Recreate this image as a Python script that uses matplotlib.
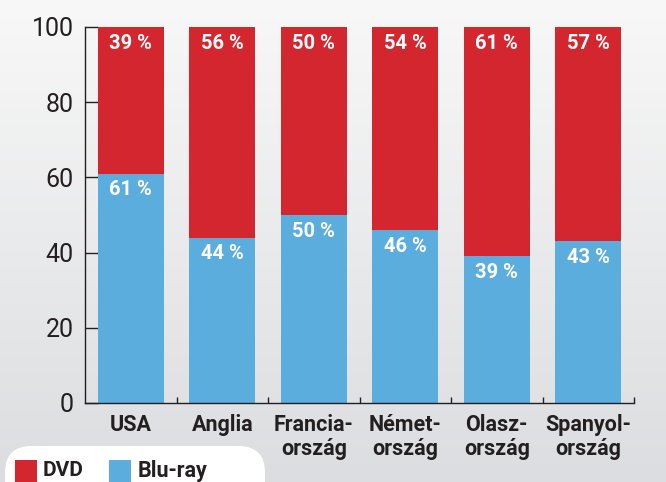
import numpy as np
import matplotlib
matplotlib.use('Agg')
from matplotlib import pyplot as plt
from matplotlib.patches import FancyBboxPatch, Rectangle

# share of sales per country (percent)
countries = ['USA', 'Anglia', 'Francia-\nország', 'Német-\nország', 'Olasz-\nország', 'Spanyol-\nország']
bluray = [61, 44, 50, 46, 39, 43]
dvd = [39, 56, 50, 54, 61, 57]

red = '#d4262f'
blue = '#5badde'
dark = '#231f20'

plt.rcParams['font.family'] = ['Roboto', 'DejaVu Sans']

fig = plt.figure(figsize=(6.66, 4.82), dpi=100)

# soft grey gradient behind everything
bg = fig.add_axes([0, 0, 1, 1], zorder=-10)
grad = np.linspace(0, 1, 256).reshape(-1, 1)
bg.imshow(grad, aspect='auto', extent=[0, 1, 0, 1],
          cmap=matplotlib.colors.LinearSegmentedColormap.from_list('g', ['#dcdde0', '#f8f8f8']),
          origin='lower')
bg.axis('off')

ax = fig.add_axes([85 / 666, 1 - 403 / 482, 549 / 666, 376 / 482])
ax.patch.set_alpha(0)

x = np.arange(len(countries))
w = 0.72
ax.bar(x, bluray, w, color=blue, zorder=2)
ax.bar(x, dvd, w, bottom=bluray, color=red, zorder=2)

for i in range(len(countries)):
    ax.text(x[i], 100 - 4.5, '%d %%' % dvd[i], ha='center', va='center',
            color='white', fontsize=14.5, fontweight='bold')
    ax.text(x[i], bluray[i] - 4.3, '%d %%' % bluray[i], ha='center', va='center',
            color='white', fontsize=14.5, fontweight='bold')

ax.set_xlim(-0.5, 5.5)
ax.set_ylim(0, 100)
ax.set_yticks([0, 20, 40, 60, 80, 100])
ax.tick_params(axis='y', direction='in', length=9.5, width=1, color=dark,
               labelsize=18, labelcolor=dark, pad=8)
ax.set_xticks(x)
ax.set_xticklabels(countries, fontsize=15.5, fontweight='bold', color=dark,
                   linespacing=1.12, va='top')
ax.tick_params(axis='x', length=0, pad=8)
ax.set_xticks(np.arange(0.5, 6, 1), minor=True)
ax.tick_params(axis='x', which='minor', direction='in', length=4.5, width=1, color=dark)

for s in ['top', 'right']:
    ax.spines[s].set_visible(False)
for s in ['left', 'bottom']:
    ax.spines[s].set_color(dark)
    ax.spines[s].set_linewidth(1)

# legend panel in the lower left corner
fig.patches.append(FancyBboxPatch((5 / 666, -0.1), 260 / 666, 0.1 + 36 / 482,
                                  boxstyle='round,pad=0,rounding_size=0.04',
                                  transform=fig.transFigure, facecolor='white',
                                  edgecolor='none', zorder=1, mutation_aspect=666 / 482))
fig.patches.append(Rectangle((15 / 666, 0), 22 / 666, 22 / 482, transform=fig.transFigure,
                             facecolor=red, edgecolor='none', zorder=2))
fig.patches.append(Rectangle((109 / 666, 0), 22 / 666, 22 / 482, transform=fig.transFigure,
                             facecolor=blue, edgecolor='none', zorder=2))
fig.text(43 / 666, 11 / 482, 'DVD', fontsize=15, fontweight='bold', color=dark, va='center')
fig.text(138 / 666, 11 / 482, 'Blu-ray', fontsize=15.5, fontweight='bold', color=dark, va='center')

fig.savefig('out.png', dpi=100)
